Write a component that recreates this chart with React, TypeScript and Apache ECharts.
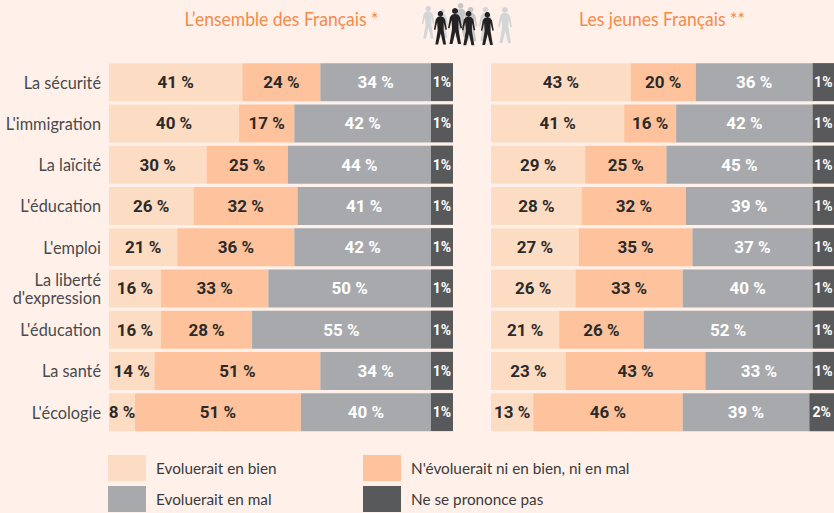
import React, { useEffect, useRef } from "react";
import * as echarts from "echarts";

const categories = ["La sécurité", "L'immigration", "La laïcité", "L'éducation", "L'emploi", "La liberté\nd'expression", "L'éducation", "La santé", "L'écologie"];
const legendNames = ["Evoluerait en bien", "N'évoluerait ni en bien, ni en mal", "Evoluerait en mal", "Ne se prononce pas"];

const allGood = [41, 40, 30, 26, 21, 16, 16, 14, 8];
const allNeutral = [24, 17, 25, 32, 36, 33, 28, 51, 51];
const allBad = [34, 42, 44, 41, 42, 50, 55, 34, 40];
const allNone = [1, 1, 1, 1, 1, 1, 1, 1, 1];
// The source draws the small "no opinion" block wider than its value.
const allNoneDrawn = [6.8, 6.8, 6.8, 6.8, 6.8, 6.8, 6.8, 6.8, 6.8];

const youngGood = [43, 41, 29, 28, 27, 26, 21, 23, 13];
const youngNeutral = [20, 16, 25, 32, 35, 33, 26, 43, 46];
const youngBad = [36, 42, 45, 39, 37, 40, 52, 33, 39];
const youngNone = [1, 1, 1, 1, 1, 1, 1, 1, 2];
const youngNoneDrawn = [6.6, 6.6, 6.6, 6.6, 6.6, 6.6, 6.6, 6.6, 7.6];

const titles = ["L’ensemble des Français *", "Les jeunes Français **"];
const colors = ["#fddcc4", "#fec39c", "#a7a9ac", "#58595b"];
const FONT = "Lato, 'Liberation Sans', sans-serif";
const BOLD = "Roboto, 'Liberation Sans', sans-serif";

const personPath = "M8 0a3 3 0 1 1-0.01 0ZM5 6.5Q8 5.5 11 6.5L13 9L15 20L13.5 20.5L11.5 12L11.5 21L14 36L11 36L8.3 24L5.5 36L2.5 36L5 21L4.5 12L2.5 20.5L1 20L3 9Z";
echarts.graphic.registerShape("person", echarts.graphic.extendPath(personPath as any, {}) as any);

function makeSeries(good: number[], neutral: number[], bad: number[], none: number[], noneDrawn: number[], idx: number) {
  const groups = [good, neutral, bad, noneDrawn];
  return groups.map((arr, g) => ({
    type: "bar",
    name: legendNames[g],
    xAxisIndex: idx,
    yAxisIndex: idx,
    stack: "s" + idx,
    barWidth: 38,
    itemStyle: { color: colors[g] },
    data: arr,
    label: {
      show: true,
      position: "inside",
      fontFamily: BOLD,
      fontWeight: "bold",
      fontSize: g === 3 ? 14 : 17,
      padding: [2, 0, 0, 0],
      color: g < 2 ? "#2b2a29" : "#ffffff",
      formatter: (p: any) => (g === 3 ? `${none[p.dataIndex]}%` : `${arr[p.dataIndex]} %`),
    },
  }));
}

const crowd = [
  [421, 6, 0.9, "#d4d5d7"], [436, 9, 0.8, "#d4d5d7"], [453, 3, 0.95, "#c4c6c8"], [463, 7, 0.95, "#c4c6c8"], [478, 7, 0.95, "#d4d5d7"], [497, 7, 1.0, "#d4d5d7"],
  [433, 11, 0.93, "#232122"], [447, 8, 1.0, "#232122"], [461, 11, 0.95, "#232122"], [480, 12, 0.92, "#232122"],
] as const;

export default function App() {
  const ref = useRef<HTMLDivElement>(null);
  useEffect(() => {
    document.body.style.margin = "0";
    const chart = echarts.init(ref.current!, null, { renderer: "svg" });
    const legendPos = [[108, 455], [363, 455], [108, 486], [363, 486]];
    chart.setOption({
      animation: false,
      backgroundColor: "#fff1ea",
      grid: [
        { left: 109, top: 61.5, width: 344, height: 371.25, outerBoundsMode: "none" },
        { left: 491, top: 61.5, width: 343, height: 371.25, outerBoundsMode: "none" },
      ],
      xAxis: [
        { gridIndex: 0, type: "value", min: 0, max: 105.8, show: false },
        { gridIndex: 1, type: "value", min: 0, max: 105.6, show: false },
      ],
      yAxis: [
        {
          gridIndex: 0, type: "category", inverse: true, data: categories,
          axisLine: { show: false }, axisTick: { show: false },
          axisLabel: { margin: 8, fontFamily: FONT, fontSize: 16.3, lineHeight: 18, color: "#4a4a4a", align: "right", padding: [2, 0, 0, 0] },
        },
        { gridIndex: 1, type: "category", inverse: true, data: categories, show: false },
      ],
      legend: legendNames.map((n, i) => ({
        data: [{ name: n, icon: "rect" }],
        left: legendPos[i][0],
        top: legendPos[i][1],
        padding: 0,
        itemWidth: 38,
        itemHeight: 26,
        selectedMode: false,
        textStyle: { fontFamily: FONT, fontSize: 15.3, color: "#3a3a3a", padding: [0, 0, 0, 5] },
      })),
      series: [
        ...makeSeries(allGood, allNeutral, allBad, allNone, allNoneDrawn, 0),
        ...makeSeries(youngGood, youngNeutral, youngBad, youngNone, youngNoneDrawn, 1),
      ],
      graphic: [
        { type: "text", x: 281.5, y: 18, scaleX: 0.875, style: { text: titles[0], fontFamily: FONT, fontSize: 20, fill: "#f58a4b", align: "center", verticalAlign: "middle" } },
        { type: "text", x: 662, y: 18, scaleX: 0.875, style: { text: titles[1], fontFamily: FONT, fontSize: 20, fill: "#f58a4b", align: "center", verticalAlign: "middle" } },
        ...crowd.map(([x, y, s, c]) => ({ type: "person", x, y, scaleX: s, scaleY: s, style: { fill: c } })),
      ],
    });
    return () => chart.dispose();
  }, []);
  return <div ref={ref} style={{ width: 834, height: 513 }} />;
}
